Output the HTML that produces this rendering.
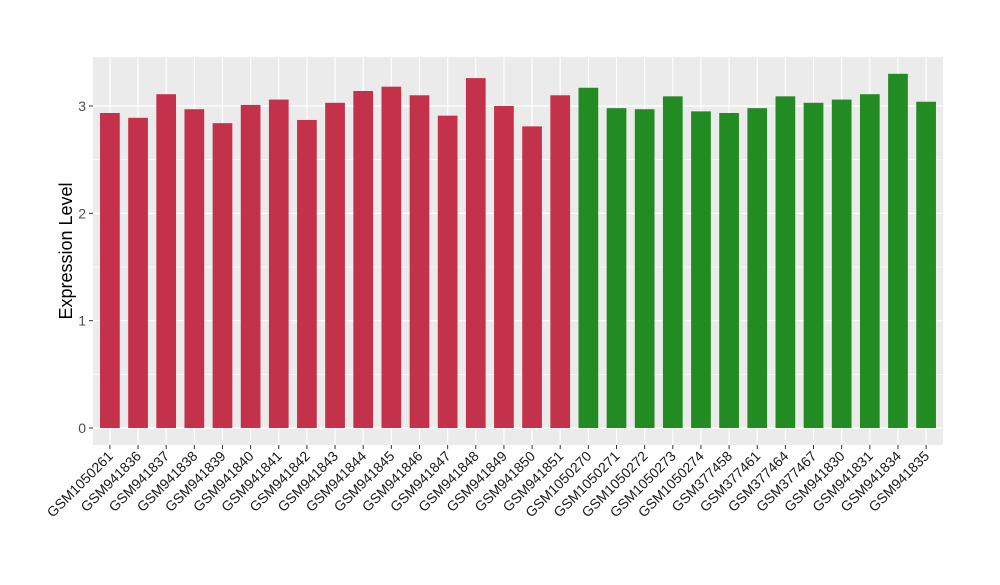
<!DOCTYPE html>
<html><head><meta charset="utf-8"><style>
body{margin:0;background:#fff;font-family:"Liberation Sans",Arial,sans-serif}
</style></head><body>
<svg id="chart" width="1000" height="580" xmlns="http://www.w3.org/2000/svg" font-family="Liberation Sans, Arial, sans-serif">
<rect x="93" y="57" width="850" height="388" fill="#EBEBEB"/>
<g id="grid"></g><g id="bars"></g><g id="yaxis"></g><g id="xaxis"></g>
<text transform="translate(72,251) rotate(-90)" text-anchor="middle" font-size="18" fill="#000">Expression Level</text>
</svg>
<script>
const categories=["GSM1050261","GSM941836","GSM941837","GSM941838","GSM941839","GSM941840","GSM941841","GSM941842","GSM941843","GSM941844","GSM941845","GSM941846","GSM941847","GSM941848","GSM941849","GSM941850","GSM941851","GSM1050270","GSM1050271","GSM1050272","GSM1050273","GSM1050274","GSM377458","GSM377461","GSM377464","GSM377467","GSM941830","GSM941831","GSM941834","GSM941835"];
const values=[2.935,2.89,3.11,2.97,2.84,3.01,3.06,2.87,3.03,3.14,3.18,3.10,2.91,3.26,3.00,2.81,3.10,3.17,2.98,2.97,3.09,2.95,2.935,2.98,3.09,3.03,3.06,3.11,3.30,3.04];
const groups=["a","a","a","a","a","a","a","a","a","a","a","a","a","a","a","a","a","b","b","b","b","b","b","b","b","b","b","b","b","b"];
const yTicks=[0,1,2,3];
const ns="http://www.w3.org/2000/svg";
const L=93,R=943,T=57,B=445;
const n=categories.length,step=(R-L)/(n+0.2);
const xc=i=>L+(0.6+i)*step;
const y=v=>428-v*107.33;
const colors={a:"#C3314A",b:"#228B22"};
function mk(tag,attrs,parent){const e=document.createElementNS(ns,tag);for(const k in attrs)e.setAttribute(k,attrs[k]);document.getElementById(parent).appendChild(e);return e;}
const minor=[0.5,1.5,2.5];
minor.forEach(v=>{const l=mk("line",{x1:L,x2:R,y1:y(v),y2:y(v),stroke:"#fff","stroke-width":0.6},"grid");

});
yTicks.forEach(v=>{const l=mk("line",{x1:L,x2:R,y1:y(v),y2:y(v),stroke:"#fff","stroke-width":1.2},"grid");


const t=mk("line",{x1:L-4,x2:L,y1:y(v),y2:y(v),stroke:"#333"},"yaxis");


const tx=mk("text",{x:L-7,y:y(v)+5,"text-anchor":"end","font-size":14,fill:"#4D4D4D"},"yaxis");tx.textContent=v;

});
categories.forEach((c,i)=>{const x=xc(i);
const g=mk("line",{x1:x,x2:x,y1:T,y2:B,stroke:"#fff","stroke-width":1.2},"grid");


const b=mk("rect",{x:x-0.35*step,width:0.7*step,y:y(values[i]),height:y(0)-y(values[i]),fill:colors[groups[i]]},"bars");


const t=mk("line",{x1:x,x2:x,y1:B,y2:B+4,stroke:"#333"},"xaxis");


const tx=mk("text",{transform:`translate(${x+4},${B+12}) rotate(-45)`,"text-anchor":"end","font-size":14,fill:"#1A1A1A"},"xaxis");tx.textContent=c;

});
</script>
</body></html>
